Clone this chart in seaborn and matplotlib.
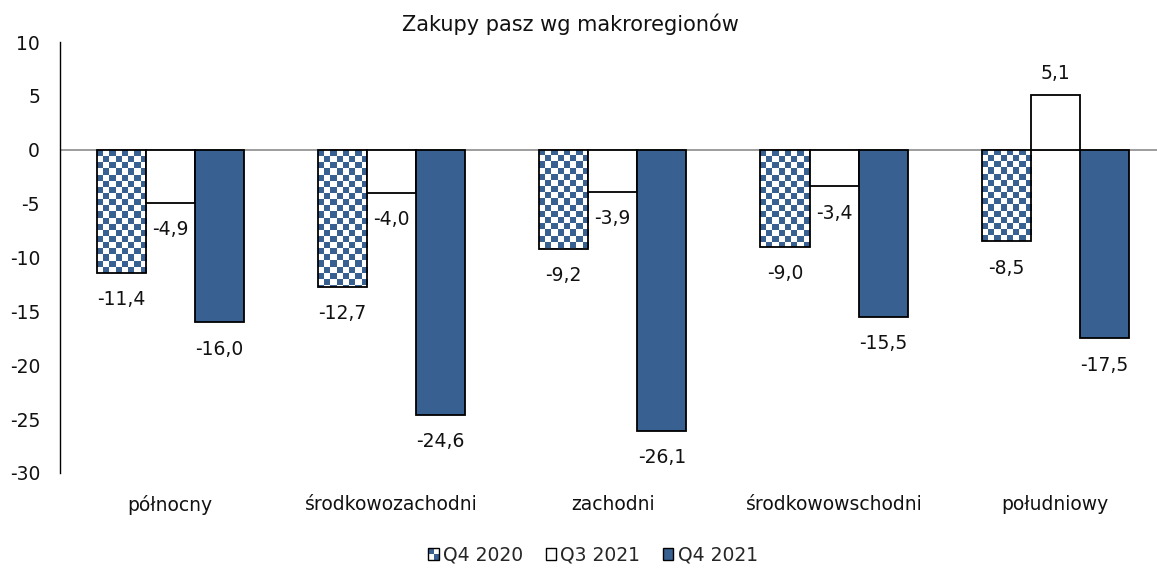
import numpy as np
import pandas as pd
import matplotlib
matplotlib.use("Agg")
import matplotlib.pyplot as plt
import seaborn as sns
from matplotlib.colors import ListedColormap
from matplotlib.patches import Rectangle
from matplotlib.legend_handler import HandlerBase

# --- data -------------------------------------------------------------
regions = ["północny", "środkowozachodni", "zachodni", "środkowowschodni", "południowy"]
periods = ["Q4 2020", "Q3 2021", "Q4 2021"]
q4_2020 = [-11.4, -12.7, -9.2, -9.0, -8.5]
q3_2021 = [-4.9, -4.0, -3.9, -3.4, 5.1]
q4_2021 = [-16.0, -24.6, -26.1, -15.5, -17.5]
y_ticks = [10, 5, 0, -5, -10, -15, -20, -25, -30]
title = "Zakupy pasz wg makroregionów"

df = pd.DataFrame({
    "region": regions * 3,
    "period": np.repeat(periods, len(regions)),
    "value": q4_2020 + q3_2021 + q4_2021,
})

BLUE = "#386192"
palette = {"Q4 2020": "white", "Q3 2021": "white", "Q4 2021": BLUE}

sns.set_theme(style="white")
plt.rcParams["font.family"] = ["DejaVu Sans"]
plt.rcParams["axes.unicode_minus"] = False
FS = 13.5

W, H = 1157, 568
fig = plt.figure(figsize=(W / 100, H / 100), dpi=100)
ax = fig.add_axes([59.5 / W, 1 - 473 / H, 1106.5 / W, 431 / H])

sns.barplot(data=df, x="region", y="value", hue="period", order=regions,
            hue_order=periods, palette=palette, saturation=1, width=0.665,
            edgecolor="black", linewidth=1.3, legend=False, ax=ax, zorder=3)

ax.set_xlim(-0.5, len(regions) - 0.5)
ax.set_ylim(-30, 10)

# checkerboard fill for the first series, clipped to each bar
px_per_unit = 431 / 40.0
checker_cmap = ListedColormap(["white", BLUE])
for bar in ax.containers[0]:
    x0, w = bar.get_x(), bar.get_width()
    h = bar.get_height()
    ncols = 8
    cell_px = (w * 1106.5 / 5) / ncols
    cell_h = cell_px / px_per_unit
    nrows = int(np.ceil(abs(h) / cell_h)) + 1
    ii, jj = np.indices((nrows, ncols))
    img = (ii + jj + 1) % 2
    if h < 0:
        extent = (x0, x0 + w, -nrows * cell_h, 0)
    else:
        extent = (x0, x0 + w, 0, nrows * cell_h)
    im = ax.imshow(img, cmap=checker_cmap, extent=extent, origin="upper",
                   aspect="auto", interpolation="nearest", zorder=2.5)
    im.set_clip_path(bar)
    bar.set_facecolor("none")

ax.set_xlim(-0.5, len(regions) - 0.5)
ax.set_ylim(-30, 10)

# value labels
for cont in ax.containers:
    for bar in cont:
        v = bar.get_height()
        xc = bar.get_x() + bar.get_width() / 2
        off = -27 * 0.72 if v < 0 else 21.7 * 0.72
        ax.annotate(f"{v:.1f}".replace(".", ","), xy=(xc, v),
                    xytext=(0, off), textcoords="offset points",
                    ha="center", va="center", fontsize=FS, color="#111111")

ax.axhline(0, color="#8c8c8c", lw=1.2, zorder=1)

for s in ["top", "right", "bottom"]:
    ax.spines[s].set_visible(False)
ax.spines["left"].set_color("black")
ax.spines["left"].set_linewidth(1.0)

ax.set_yticks(y_ticks)
ax.set_yticklabels([str(t) for t in y_ticks])
ax.tick_params(axis="y", length=0, pad=14, labelsize=FS, labelcolor="#111111")
ax.tick_params(axis="x", length=0, pad=16, labelsize=FS, labelcolor="#111111")
ax.set_xlabel("")
ax.set_ylabel("")
ax.grid(False)

fig.text(570 / W, 1 - 24 / H, title, ha="center", va="center",
         fontsize=15, color="#111111")


# legend with a small checker swatch for the first series
class CheckerHandler(HandlerBase):
    def create_artists(self, legend, orig_handle, xdescent, ydescent,
                       width, height, fontsize, trans):
        s = height
        x0, y0 = -xdescent, -ydescent
        arts = [Rectangle((x0, y0), s, s, facecolor="white", edgecolor="none",
                          transform=trans)]
        half = s / 2
        arts.append(Rectangle((x0, y0 + half), half, half, facecolor=BLUE,
                              edgecolor="none", transform=trans))
        arts.append(Rectangle((x0 + half, y0), half, half, facecolor=BLUE,
                              edgecolor="none", transform=trans))
        arts.append(Rectangle((x0, y0), s, s, facecolor="none",
                              edgecolor="black", lw=1.0, transform=trans))
        return arts


h_checker = Rectangle((0, 0), 1, 1)
h_white = Rectangle((0, 0), 1, 1, facecolor="white", edgecolor="black", lw=1.0)
h_blue = Rectangle((0, 0), 1, 1, facecolor=BLUE, edgecolor="black", lw=1.0)
fig.legend([h_checker, h_white, h_blue], periods, loc="center",
           bbox_to_anchor=(593 / W, 1 - 555 / H), ncol=3, frameon=False,
           fontsize=FS, handlelength=0.55, handleheight=0.55,
           handletextpad=0.25, columnspacing=1.2,
           handler_map={h_checker: CheckerHandler()})

fig.savefig("out.png", dpi=100)
